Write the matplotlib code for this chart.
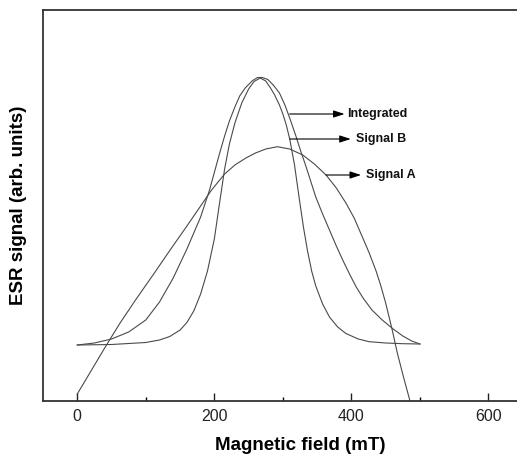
import matplotlib
matplotlib.use("Agg")
import matplotlib.pyplot as plt
from matplotlib.ticker import MultipleLocator

# ---- data (arbitrary units) ----
field_A = [0, 20, 40, 62, 85, 110, 135, 160, 180, 196, 215, 230, 246, 260, 275,
           292, 310, 329, 346, 363, 378, 392, 404, 416, 426, 436, 443, 450,
           459.6, 467, 476, 485.5]
signal_A = [7, 30, 53, 77.5, 101, 125.5, 150.5, 175, 195, 211, 227, 236, 243, 248, 252,
            254.3, 252, 246, 237, 226, 213, 198, 183, 164, 148, 130, 115, 98,
            71, 48, 24, 0]

field_B = [0, 50, 100, 120, 135, 150, 160, 170, 180, 190, 200, 207, 215, 222, 230,
           240, 250, 258, 267, 275, 282, 288, 295, 300, 305, 310, 317, 324, 330,
           336, 342, 348, 358, 368, 380, 392, 410, 426, 450, 475, 500]
signal_B = [56, 56.5, 58.5, 61, 64.5, 71, 78.5, 90, 107, 130, 162, 195, 232, 257, 278,
            298, 312, 319.5, 323, 320, 313, 306, 296, 287, 276, 262, 236, 202, 174,
            150, 130, 115, 97, 84, 74, 67.5, 62, 59.3, 58, 57.3, 57]

field_I = [0, 25, 50, 75, 100, 120, 140, 160, 180, 193, 207, 215, 222, 230, 237,
           245, 255, 263, 270, 278, 286, 295, 303, 311, 319, 326, 334, 341, 348,
           358, 368, 378, 388, 398, 407, 418, 430, 445, 460, 475, 488, 500]
signal_I = [56, 58, 62, 69, 81, 99, 123, 152, 184, 211, 246, 265, 280, 294, 305,
            313, 320, 323.5, 323.5, 321.5, 316, 308, 296, 281, 265, 250, 234, 219, 204,
            187, 171, 155, 140, 126, 114, 102, 91, 81, 72.5, 65, 60, 57]

labels = ["Integrated", "Signal B", "Signal A"]
label_tail = [(310, 287), (310, 262), (363, 226)]
label_tip = [(390, 287), (399, 262), (414, 226)]
label_text = [(394, 287), (407, 262), (422, 226)]

xticks_major = [0, 200, 400, 600]

# ---- figure ----
plt.rcParams['font.family'] = ['Liberation Sans', 'DejaVu Sans']
W, H = 517, 457
fig = plt.figure(figsize=(W / 100, H / 100), dpi=100)
ax = fig.add_axes([43 / W, (H - 401) / H, (557 - 43) / W, (401 - 10) / H])

line_kw = dict(color='#4a4a4a', lw=0.8)
ax.plot(field_A, signal_A, **line_kw)
ax.plot(field_B, signal_B, **line_kw)
ax.plot(field_I, signal_I, **line_kw)

for lab, tail, tip, tpos in zip(labels, label_tail, label_tip, label_text):
    ax.annotate('', xy=tip, xytext=tail,
                arrowprops=dict(arrowstyle='-|>,head_length=0.55,head_width=0.18',
                                color='black', lw=0.8, shrinkA=0, shrinkB=0,
                                mutation_scale=12))
    ax.text(tpos[0], tpos[1], lab, fontsize=9, fontweight='bold',
            ha='left', va='center', color='#111111')

ax.set_xlim(-50, 700)
ax.set_ylim(0, 391)
ax.set_xticks(xticks_major)
ax.xaxis.set_minor_locator(MultipleLocator(100))
ax.set_yticks([])
ax.tick_params(axis='x', which='major', direction='in', length=6, width=1.0,
               labelsize=11.5, pad=6, colors='#222222')
ax.tick_params(axis='x', which='minor', direction='in', length=3, width=1.0)
for s in ['left', 'top', 'bottom', 'right']:
    ax.spines[s].set_linewidth(1.3)
    ax.spines[s].set_color('#333333')

ax.set_xlabel('Magnetic field (mT)', fontsize=13.5, fontweight='bold', labelpad=9)
ax.set_ylabel('ESR signal (arb. units)', fontsize=13.5, fontweight='bold')
ax.yaxis.set_label_coords(-0.032, 0.5)

fig.savefig('out.png', dpi=100)
